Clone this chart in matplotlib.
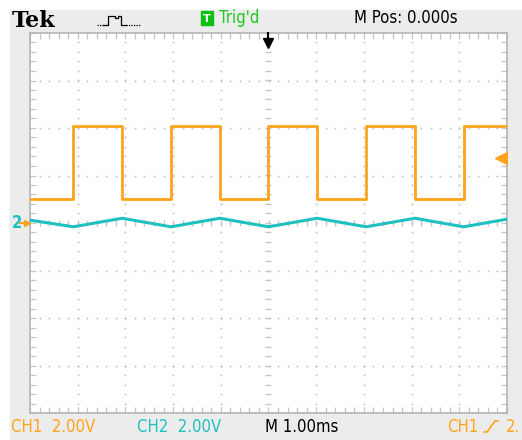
import matplotlib.pyplot as plt
import numpy as np
from matplotlib.patches import Rectangle

ch1_t = [-5.0, -4.09, -3.07, -2.045, -1.02, 0.0, 1.02, 2.045, 3.07, 4.09, 5.0]
ch1_v = [0.505, 2.04, 0.505, 2.04, 0.505, 2.04, 0.505, 2.04, 0.505, 2.04, 2.04]
ch2_t = [-5.0, -4.09, -3.07, -2.045, -1.02, 0.0, 1.02, 2.045, 3.07, 4.09, 5.0]
ch2_v = [0.06, -0.08, 0.10, -0.08, 0.10, -0.08, 0.10, -0.08, 0.10, -0.08, 0.08]
trig_level = 1.37

ORANGE = '#ffa31a'
CYAN = '#1fc0c0'
GRID = '#c6c6c6'
W, H = 522, 440
narrow = dict(family='DejaVu Sans', stretch='condensed')


def px(x, y):
    return x / W, 1 - y / H


fig = plt.figure(figsize=(W / 100, H / 100), dpi=100, facecolor='white')
fig.patches.append(Rectangle(px(10, 440), (W - 10) / W, 430 / H,
                             transform=fig.transFigure, color='#ececec', zorder=-5))

ax = fig.add_axes([30 / W, (H - 413) / H, 477 / W, 380 / H])
ax.set_zorder(1)
ax.set_facecolor('white')
ax.set_xlim(-5, 5)
ax.set_ylim(-4, 4)
for s in ax.spines.values():
    s.set_color('#b4b4b4')
    s.set_linewidth(1.2)

# border ticks every 0.2 div
ax.set_xticks(np.arange(-5, 5.01, 1))
ax.set_yticks(np.arange(-4, 4.01, 1))
ax.set_xticks(np.arange(-5, 5.01, 0.2), minor=True)
ax.set_yticks(np.arange(-4, 4.01, 0.2), minor=True)
ax.tick_params(which='both', direction='in', length=4, width=0.9, color=GRID,
               top=True, right=True, labelbottom=False, labelleft=False)

# dotted graticule
minor_x = np.arange(-5, 5.01, 0.2)
minor_y = np.arange(-4, 4.01, 0.2)
for gx in range(-4, 5):
    if gx == 0:
        continue
    ax.plot(np.full_like(minor_y, gx), minor_y, ls='none', marker='o', ms=1.4,
            color=GRID, mec='none', zorder=1)
for gy in range(-3, 4):
    if gy == 0:
        continue
    ax.plot(minor_x, np.full_like(minor_x, gy), ls='none', marker='o', ms=1.4,
            color=GRID, mec='none', zorder=1)
# centre cross with short dashes
ax.plot(np.zeros_like(minor_y), minor_y, ls='none', marker='_', ms=5, mew=1.0,
        color=GRID, zorder=1)
ax.plot(minor_x, np.zeros_like(minor_x), ls='none', marker='|', ms=5, mew=1.0,
        color=GRID, zorder=1)

# traces
ax.plot(ch1_t, ch1_v, drawstyle='steps-post', color=ORANGE, lw=2, zorder=3)
ax.plot(ch2_t, ch2_v, color=CYAN, lw=2.2, zorder=3)

# trigger level marker (right) and trigger position (top)
ax.plot([4.88], [trig_level], marker='<', ms=8, color=ORANGE, zorder=4)
ax.plot([4.9, 5.0], [trig_level, trig_level], color=ORANGE, lw=2, zorder=4)
ax.plot([0, 0], [4.0, 3.75], color='black', lw=1.5, zorder=4, clip_on=False)
ax.plot([0], [3.78], marker='v', ms=7, color='black', zorder=4, clip_on=False)

# channel 2 ground marker
fig.text(*px(12, 223), '2', color=CYAN, fontsize=12, fontweight='bold',
         va='center', ha='left', **narrow)
fig.lines.append(plt.Line2D([20 / W, 24 / W], [1 - 222.5 / H] * 2,
                            transform=fig.transFigure, color=ORANGE, lw=1.5))
fig.lines.append(plt.Line2D([27 / W], [1 - 222.5 / H], transform=fig.transFigure,
                            marker='>', ms=5, color=ORANGE, ls='none'))

# header
fig.text(*px(12, 27), 'Tek', fontsize=16, fontweight='bold',
         family='DejaVu Serif', va='baseline', ha='left')
icon_x = [103, 108, 108, 115, 115, 118, 118, 121, 121, 126]
icon_y = [25, 25, 16, 16, 18, 18, 16, 16, 25, 25]
fig.lines.append(plt.Line2D([x / W for x in icon_x], [1 - y / H for y in icon_y],
                            transform=fig.transFigure, color='black', lw=0.9))
fig.lines.append(plt.Line2D([97 / W, 103 / W], [1 - 25 / H] * 2, transform=fig.transFigure,
                            color='black', lw=0.9, ls=(0, (1, 1))))
fig.lines.append(plt.Line2D([126 / W, 140 / W], [1 - 25 / H] * 2, transform=fig.transFigure,
                            color='black', lw=0.9, ls=(0, (1, 1))))
fig.patches.append(Rectangle(px(201, 25), 12 / W, 14 / H, transform=fig.transFigure,
                             color='#10c010', zorder=2))
fig.text(*px(207, 18.5), 'T', color='white', fontsize=8, fontweight='bold',
         ha='center', va='center', family='DejaVu Sans')
fig.text(*px(219, 18), "Trig'd", color='#22c822', fontsize=12, va='center',
         ha='left', **narrow)
fig.text(*px(354, 18), 'M Pos: 0.000s', color='black', fontsize=12, va='center',
         ha='left', **narrow)

# footer
fig.text(*px(11, 427), 'CH1  2.00V', color=ORANGE, fontsize=12, va='center',
         ha='left', **narrow)
fig.text(*px(137, 427), 'CH2  2.00V', color=CYAN, fontsize=12, va='center',
         ha='left', **narrow)
fig.text(*px(265, 427), 'M 1.00ms', color='black', fontsize=12, va='center',
         ha='left', **narrow)
fig.text(*px(447, 427), 'CH1', color=ORANGE, fontsize=12, va='center',
         ha='left', **narrow)
fig.lines.append(plt.Line2D([484 / W, 487 / W, 495 / W, 498 / W],
                            [1 - 432 / H, 1 - 432 / H, 1 - 421 / H, 1 - 421 / H],
                            transform=fig.transFigure, color=ORANGE, lw=1.2))
fig.text(*px(506, 427), '2.', color=ORANGE, fontsize=12, va='center',
         ha='left', **narrow)

fig.savefig('out.png', dpi=100, facecolor='white')
